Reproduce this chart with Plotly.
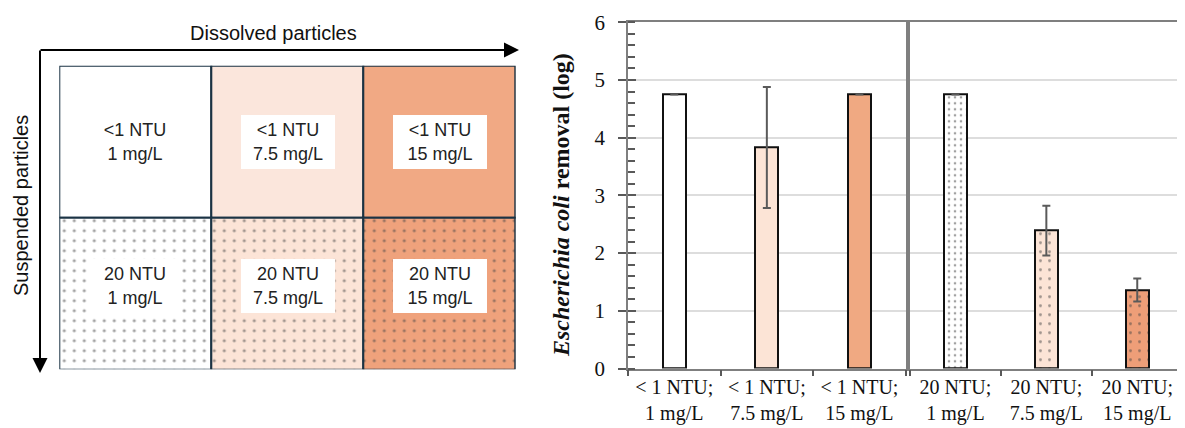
import plotly.graph_objects as go

# page body has an 8px margin: the figure is sized so it exactly fills the window
OFF = 8
W, H = 1185 - OFF, 428 - OFF

# ---------------- schematic (left) data ----------------
grid_cols = ["1 mg/L", "7.5 mg/L", "15 mg/L"]
grid_rows = ["<1 NTU", "20 NTU"]           # top row, bottom row
top_fill = ["#FFFFFF", "#FBE6DC", "#F1A984"]
bottom_fill = ["#FFFFFF", "#FCE4D7", "#EFA27C"]
bottom_dots = ["#24408C", "#E9875A", "#C9592A"]
axis_titles = ["Dissolved particles", "Suspended particles"]

# ---------------- bar chart (right) data ----------------
bar_labels = ["< 1 NTU;<br>1 mg/L", "< 1 NTU;<br>7.5 mg/L", "< 1 NTU;<br>15 mg/L",
              "20 NTU;<br>1 mg/L", "20 NTU;<br>7.5 mg/L", "20 NTU;<br>15 mg/L"]
removal = [4.75, 3.83, 4.75, 4.75, 2.39, 1.36]
removal_err = [0.0, 1.05, 0.0, 0.0, 0.43, 0.20]
bar_fill = ["#FFFFFF", "#FCE4D6", "#F0A982", "#FFFFFF", "#FCE4D6", "#EE9E78"]
bar_dots = ["#EE8A52", "#E06A30", "#C4531B"]
y_title = "<b><i>Escherichia coli</i> removal (log)</b>"

fig = go.Figure()

def px_x(p):
    return (p - OFF) / W

def px_y(p):
    return 1 - (p - OFF) / H

# schematic grid cells drawn as bars on their own axes
ncol = len(grid_cols)
xs = [i + 0.5 for i in range(ncol)]
cell_line = dict(color="#1B3344", width=2)
fig.add_trace(go.Bar(x=xs, y=[1] * ncol, base=[1] * ncol, width=1,
                     marker=dict(color=top_fill, line=cell_line),
                     xaxis="x3", yaxis="y3", cliponaxis=False,
                     hoverinfo="skip", showlegend=False))
fig.add_trace(go.Bar(x=xs, y=[1] * ncol, base=[0] * ncol, width=1,
                     marker=dict(color=bottom_fill, line=cell_line,
                                 pattern=dict(shape=".", fgcolor=bottom_dots,
                                              bgcolor=bottom_fill, size=10,
                                              solidity=0.08)),
                     xaxis="x3", yaxis="y3", cliponaxis=False,
                     hoverinfo="skip", showlegend=False))

# bar chart: panel 1
err_style = dict(type="data", color="#5A5A5A", thickness=2, width=4)
fig.add_trace(go.Bar(x=bar_labels[:3], y=removal[:3], width=0.25,
                     marker=dict(color=bar_fill[:3], line=dict(color="#111111", width=2)),
                     error_y=dict(array=removal_err[:3], **err_style),
                     xaxis="x", yaxis="y", showlegend=False))
# bar chart: panel 2
fig.add_trace(go.Bar(x=bar_labels[3:], y=removal[3:], width=0.25,
                     marker=dict(color=bar_fill[3:], line=dict(color="#111111", width=2),
                                 pattern=dict(shape=".", fgcolor=bar_dots,
                                              bgcolor=bar_fill[3:], size=[6, 9, 9],
                                              solidity=[0.15, 0.08, 0.08])),
                     error_y=dict(array=removal_err[3:], **err_style),
                     xaxis="x2", yaxis="y2", showlegend=False))
# invisible trace carrying the inside half of the major y ticks
fig.add_trace(go.Scatter(x=bar_labels[:1], y=[0], mode="markers",
                         marker=dict(opacity=0), xaxis="x", yaxis="y4",
                         hoverinfo="skip", showlegend=False))

serif = "Liberation Serif"
sans = "Liberation Sans"
line_col = "#7F7F7F"
tick_col = "#595959"
ydom = [px_y(368.5), px_y(22.3)]

annotations = []
# cell labels
row_y = [1.5, 0.55]
for r, row in enumerate(grid_rows):
    for c, col in enumerate(grid_cols):
        annotations.append(dict(x=xs[c], y=row_y[r], xref="x3", yref="y3",
                                text=f"{row}<br>{col}", showarrow=False,
                                font=dict(family=sans, size=18, color="#222222"),
                                bgcolor="#FFFFFF", width=94, height=54,
                                borderpad=0, borderwidth=0))
# schematic axis titles
annotations.append(dict(x=px_x(273), y=px_y(33), xref="paper", yref="paper",
                        xanchor="center", yanchor="middle",
                        text=axis_titles[0], showarrow=False,
                        font=dict(family=sans, size=20, color="#111111")))
annotations.append(dict(x=px_x(21), y=px_y(206), xref="paper", yref="paper",
                        xanchor="center", yanchor="middle",
                        text=axis_titles[1], showarrow=False, textangle=-90,
                        font=dict(family=sans, size=20, color="#111111")))
# bar chart y title
annotations.append(dict(x=px_x(561), y=px_y(205), xref="paper", yref="paper",
                        xanchor="center", yanchor="middle",
                        text=y_title, showarrow=False, textangle=-90,
                        font=dict(family=serif, size=24, color="#111111")))
# arrows
annotations.append(dict(x=px_x(519), y=px_y(50), xref="paper", yref="paper",
                        ax=-480, ay=0, text="", showarrow=True,
                        arrowhead=2, arrowsize=1.5, arrowwidth=2, arrowcolor="#000000"))
annotations.append(dict(x=px_x(40), y=px_y(373), xref="paper", yref="paper",
                        ax=0, ay=-324, text="", showarrow=True,
                        arrowhead=2, arrowsize=1.5, arrowwidth=2, arrowcolor="#000000"))

xcommon = dict(type="category", range=[-0.5, 2.5], automargin=False,
               showline=True, mirror=True, linecolor=line_col, linewidth=1.5,
               ticks="outside", tickson="boundaries", ticklen=6, tickwidth=1.5,
               tickcolor=tick_col, showgrid=False,
               tickfont=dict(family=serif, size=20, color="#111111"))

fig.update_layout(
    width=W, height=H, autosize=False,
    margin=dict(l=0, r=0, t=0, b=0, pad=0, autoexpand=False),
    paper_bgcolor="white", plot_bgcolor="white",
    bargap=0, barmode="overlay",
    showlegend=False,
    annotations=annotations,
    xaxis3=dict(domain=[px_x(59.3), px_x(515.7)], range=[0, 3], visible=False,
                anchor="y3", fixedrange=True, automargin=False),
    yaxis3=dict(domain=[px_y(369.3), px_y(65.7)], range=[0, 2], visible=False,
                anchor="x3", fixedrange=True, automargin=False),
    xaxis=dict(domain=[px_x(628), px_x(905.7)], anchor="y", **xcommon),
    xaxis2=dict(domain=[px_x(910), min(1.0, px_x(1182.7))], anchor="y2", **xcommon),
    yaxis=dict(domain=ydom, range=[0, 6], dtick=1, anchor="x", automargin=False,
               showline=True, mirror=True, linecolor=line_col, linewidth=1.5,
               ticks="outside", ticklen=8, tickwidth=1.5, tickcolor=tick_col,
               minor=dict(dtick=0.2, ticks="inside", ticklen=7, tickwidth=1.5,
                          tickcolor=tick_col, showgrid=False),
               showgrid=True, gridcolor="#DDDDDD", gridwidth=1.5, zeroline=False,
               ticklabelstandoff=9,
               tickfont=dict(family=serif, size=21, color="#111111")),
    yaxis4=dict(overlaying="y", matches="y", range=[0, 6], dtick=1, anchor="x",
                side="left", automargin=False, showline=False, showgrid=False,
                zeroline=False, ticks="inside", ticklen=8, tickwidth=1.5,
                tickcolor=tick_col, showticklabels=False),
    yaxis2=dict(domain=ydom, range=[0, 6], dtick=1, anchor="x2", matches="y",
                automargin=False,
                showline=True, mirror=True, linecolor=line_col, linewidth=1.5,
                ticks="", showticklabels=False,
                showgrid=True, gridcolor="#DDDDDD", gridwidth=1.5, zeroline=False),
)

fig.write_html("out.html")
